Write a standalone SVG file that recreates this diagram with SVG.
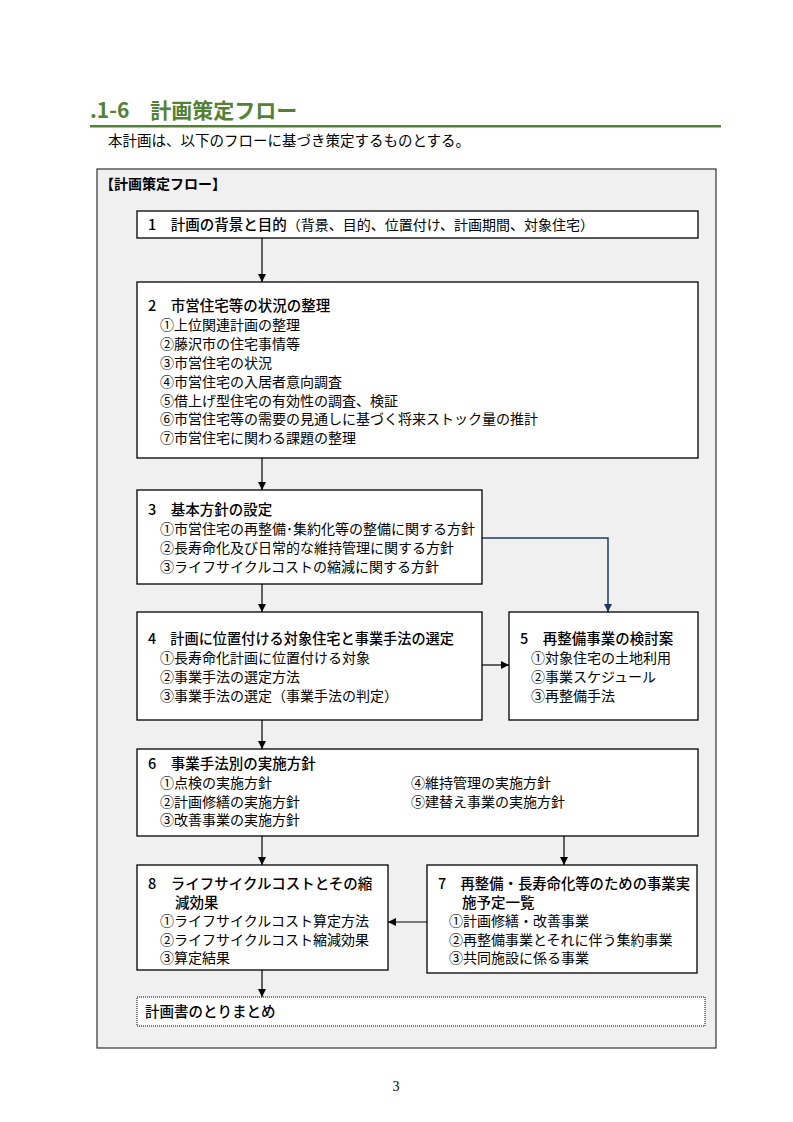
<svg xmlns="http://www.w3.org/2000/svg" width="793" height="1122" viewBox="0 0 793 1122">
<style>
text{font-family:"Noto Sans CJK JP","Liberation Sans",sans-serif;fill:#000}
.h{font-size:14.5px;font-weight:500}
.i{font-size:14px;font-weight:400}
.box{fill:#fff;stroke:#000;stroke-width:1.3}
.ln{stroke:#000;stroke-width:1.2;fill:none}
.bl{stroke:#1f3864;stroke-width:1.5;fill:none}
</style>
<defs>
<marker id="ah" viewBox="0 0 10 10" refX="10" refY="5" markerWidth="8" markerHeight="8" markerUnits="userSpaceOnUse" orient="auto"><path d="M0,0L10,5L0,10z" fill="#000"/></marker>
<marker id="ahb" viewBox="0 0 10 10" refX="10" refY="5" markerWidth="8" markerHeight="8" markerUnits="userSpaceOnUse" orient="auto"><path d="M0,0L10,5L0,10z" fill="#1f3864"/></marker>
</defs>
<rect width="793" height="1122" fill="#fff"/>
<g id="header">
<text x="90" y="118" style="font-size:21px;font-weight:bold;fill:#538135">.1-6　計画策定フロー</text>
<rect x="90" y="125" width="631" height="2.5" fill="#538135"/>
<text x="108" y="146" style="font-size:14.5px">本計画は、以下のフローに基づき策定するものとする。</text>
</g>
<g id="frame">
<rect x="97" y="169" width="619" height="879" fill="#f0f0f0" stroke="#333" stroke-width="1.2"/>
<text x="100" y="189" style="font-size:14px;font-weight:bold">【計画策定フロー】</text>
</g>
<g id="connectors">
<line class="ln" x1="262" y1="238" x2="262" y2="282" marker-end="url(#ah)"/>
<line class="ln" x1="262" y1="458" x2="262" y2="490" marker-end="url(#ah)"/>
<polyline class="bl" points="482,538 608,538 608,612" marker-end="url(#ahb)"/>
<line class="ln" x1="262" y1="584" x2="262" y2="612" marker-end="url(#ah)"/>
<line class="ln" x1="482" y1="665" x2="509" y2="665" marker-end="url(#ah)"/>
<line class="ln" x1="262" y1="720" x2="262" y2="749" marker-end="url(#ah)"/>
<line class="ln" x1="262" y1="836" x2="262" y2="865" marker-end="url(#ah)"/>
<line class="ln" x1="564" y1="836" x2="564" y2="865" marker-end="url(#ah)"/>
<line class="ln" x1="427" y1="922" x2="388" y2="922" marker-end="url(#ah)"/>
<line class="ln" x1="262" y1="970" x2="262" y2="997" marker-end="url(#ah)"/>
</g>
<g id="n1">
<rect class="box" x="137" y="211" width="561" height="27"/>
<text x="148" y="230" class="h">1　計画の背景と目的<tspan class="i" style="font-weight:400">（背景、目的、位置付け、計画期間、対象住宅）</tspan></text>
</g>
<g id="n2">
<rect class="box" x="137" y="282" width="561" height="176"/>
<text x="148" y="311" class="h">2　市営住宅等の状況の整理</text>
<text x="160" y="330" class="i">①上位関連計画の整理</text>
<text x="160" y="349" class="i">②藤沢市の住宅事情等</text>
<text x="160" y="368" class="i">③市営住宅の状況</text>
<text x="160" y="387" class="i">④市営住宅の入居者意向調査</text>
<text x="160" y="406" class="i">⑤借上げ型住宅の有効性の調査、検証</text>
<text x="160" y="424" class="i">⑥市営住宅等の需要の見通しに基づく将来ストック量の推計</text>
<text x="160" y="443" class="i">⑦市営住宅に関わる課題の整理</text>
</g>
<g id="n3">
<rect class="box" x="137" y="490" width="345" height="94"/>
<text x="148" y="515" class="h">3　基本方針の設定</text>
<text x="160" y="534" class="i">①市営住宅の再整備･集約化等の整備に関する方針</text>
<text x="160" y="553" class="i">②長寿命化及び日常的な維持管理に関する方針</text>
<text x="160" y="572" class="i">③ライフサイクルコストの縮減に関する方針</text>
</g>
<g id="n4">
<rect class="box" x="137" y="612" width="345" height="108"/>
<text x="148" y="644" class="h" textLength="306" lengthAdjust="spacingAndGlyphs">4　計画に位置付ける対象住宅と事業手法の選定</text>
<text x="160" y="663" class="i">①長寿命化計画に位置付ける対象</text>
<text x="160" y="682" class="i">②事業手法の選定方法</text>
<text x="160" y="701" class="i">③事業手法の選定（事業手法の判定）</text>
</g>
<g id="n5">
<rect class="box" x="509" y="612" width="189" height="108"/>
<text x="520" y="644" class="h">5　再整備事業の検討案</text>
<text x="531" y="663" class="i">①対象住宅の土地利用</text>
<text x="531" y="682" class="i">②事業スケジュール</text>
<text x="531" y="701" class="i">③再整備手法</text>
</g>
<g id="n6">
<rect class="box" x="137" y="749" width="561" height="87"/>
<text x="148" y="769" class="h">6　事業手法別の実施方針</text>
<text x="160" y="788" class="i">①点検の実施方針</text>
<text x="160" y="807" class="i">②計画修繕の実施方針</text>
<text x="160" y="825" class="i">③改善事業の実施方針</text>
<text x="411" y="788" class="i">④維持管理の実施方針</text>
<text x="411" y="807" class="i">⑤建替え事業の実施方針</text>
</g>
<g id="n8">
<rect class="box" x="137" y="865" width="251" height="105"/>
<text x="148" y="889" class="h">8　ライフサイクルコストとその縮</text>
<text x="175" y="908" class="h">減効果</text>
<text x="160" y="926" class="i">①ライフサイクルコスト算定方法</text>
<text x="160" y="945" class="i">②ライフサイクルコスト縮減効果</text>
<text x="160" y="963" class="i">③算定結果</text>
</g>
<g id="n7">
<rect class="box" x="427" y="865" width="270" height="108"/>
<text x="438" y="889" class="h" textLength="252" lengthAdjust="spacingAndGlyphs">7　再整備・長寿命化等のための事業実</text>
<text x="462" y="908" class="h">施予定一覧</text>
<text x="449" y="926" class="i">①計画修繕・改善事業</text>
<text x="449" y="945" class="i">②再整備事業とそれに伴う集約事業</text>
<text x="449" y="963" class="i">③共同施設に係る事業</text>
</g>
<g id="n9">
<rect x="137" y="997" width="568" height="29" fill="#fff" stroke="#000" stroke-width="1" stroke-dasharray="1,1"/>
<text x="145" y="1017" class="h">計画書のとりまとめ</text>
</g>
<text x="396" y="1091" style="font-family:'Liberation Serif',serif;font-size:14px;text-anchor:middle">3</text>
</svg>
